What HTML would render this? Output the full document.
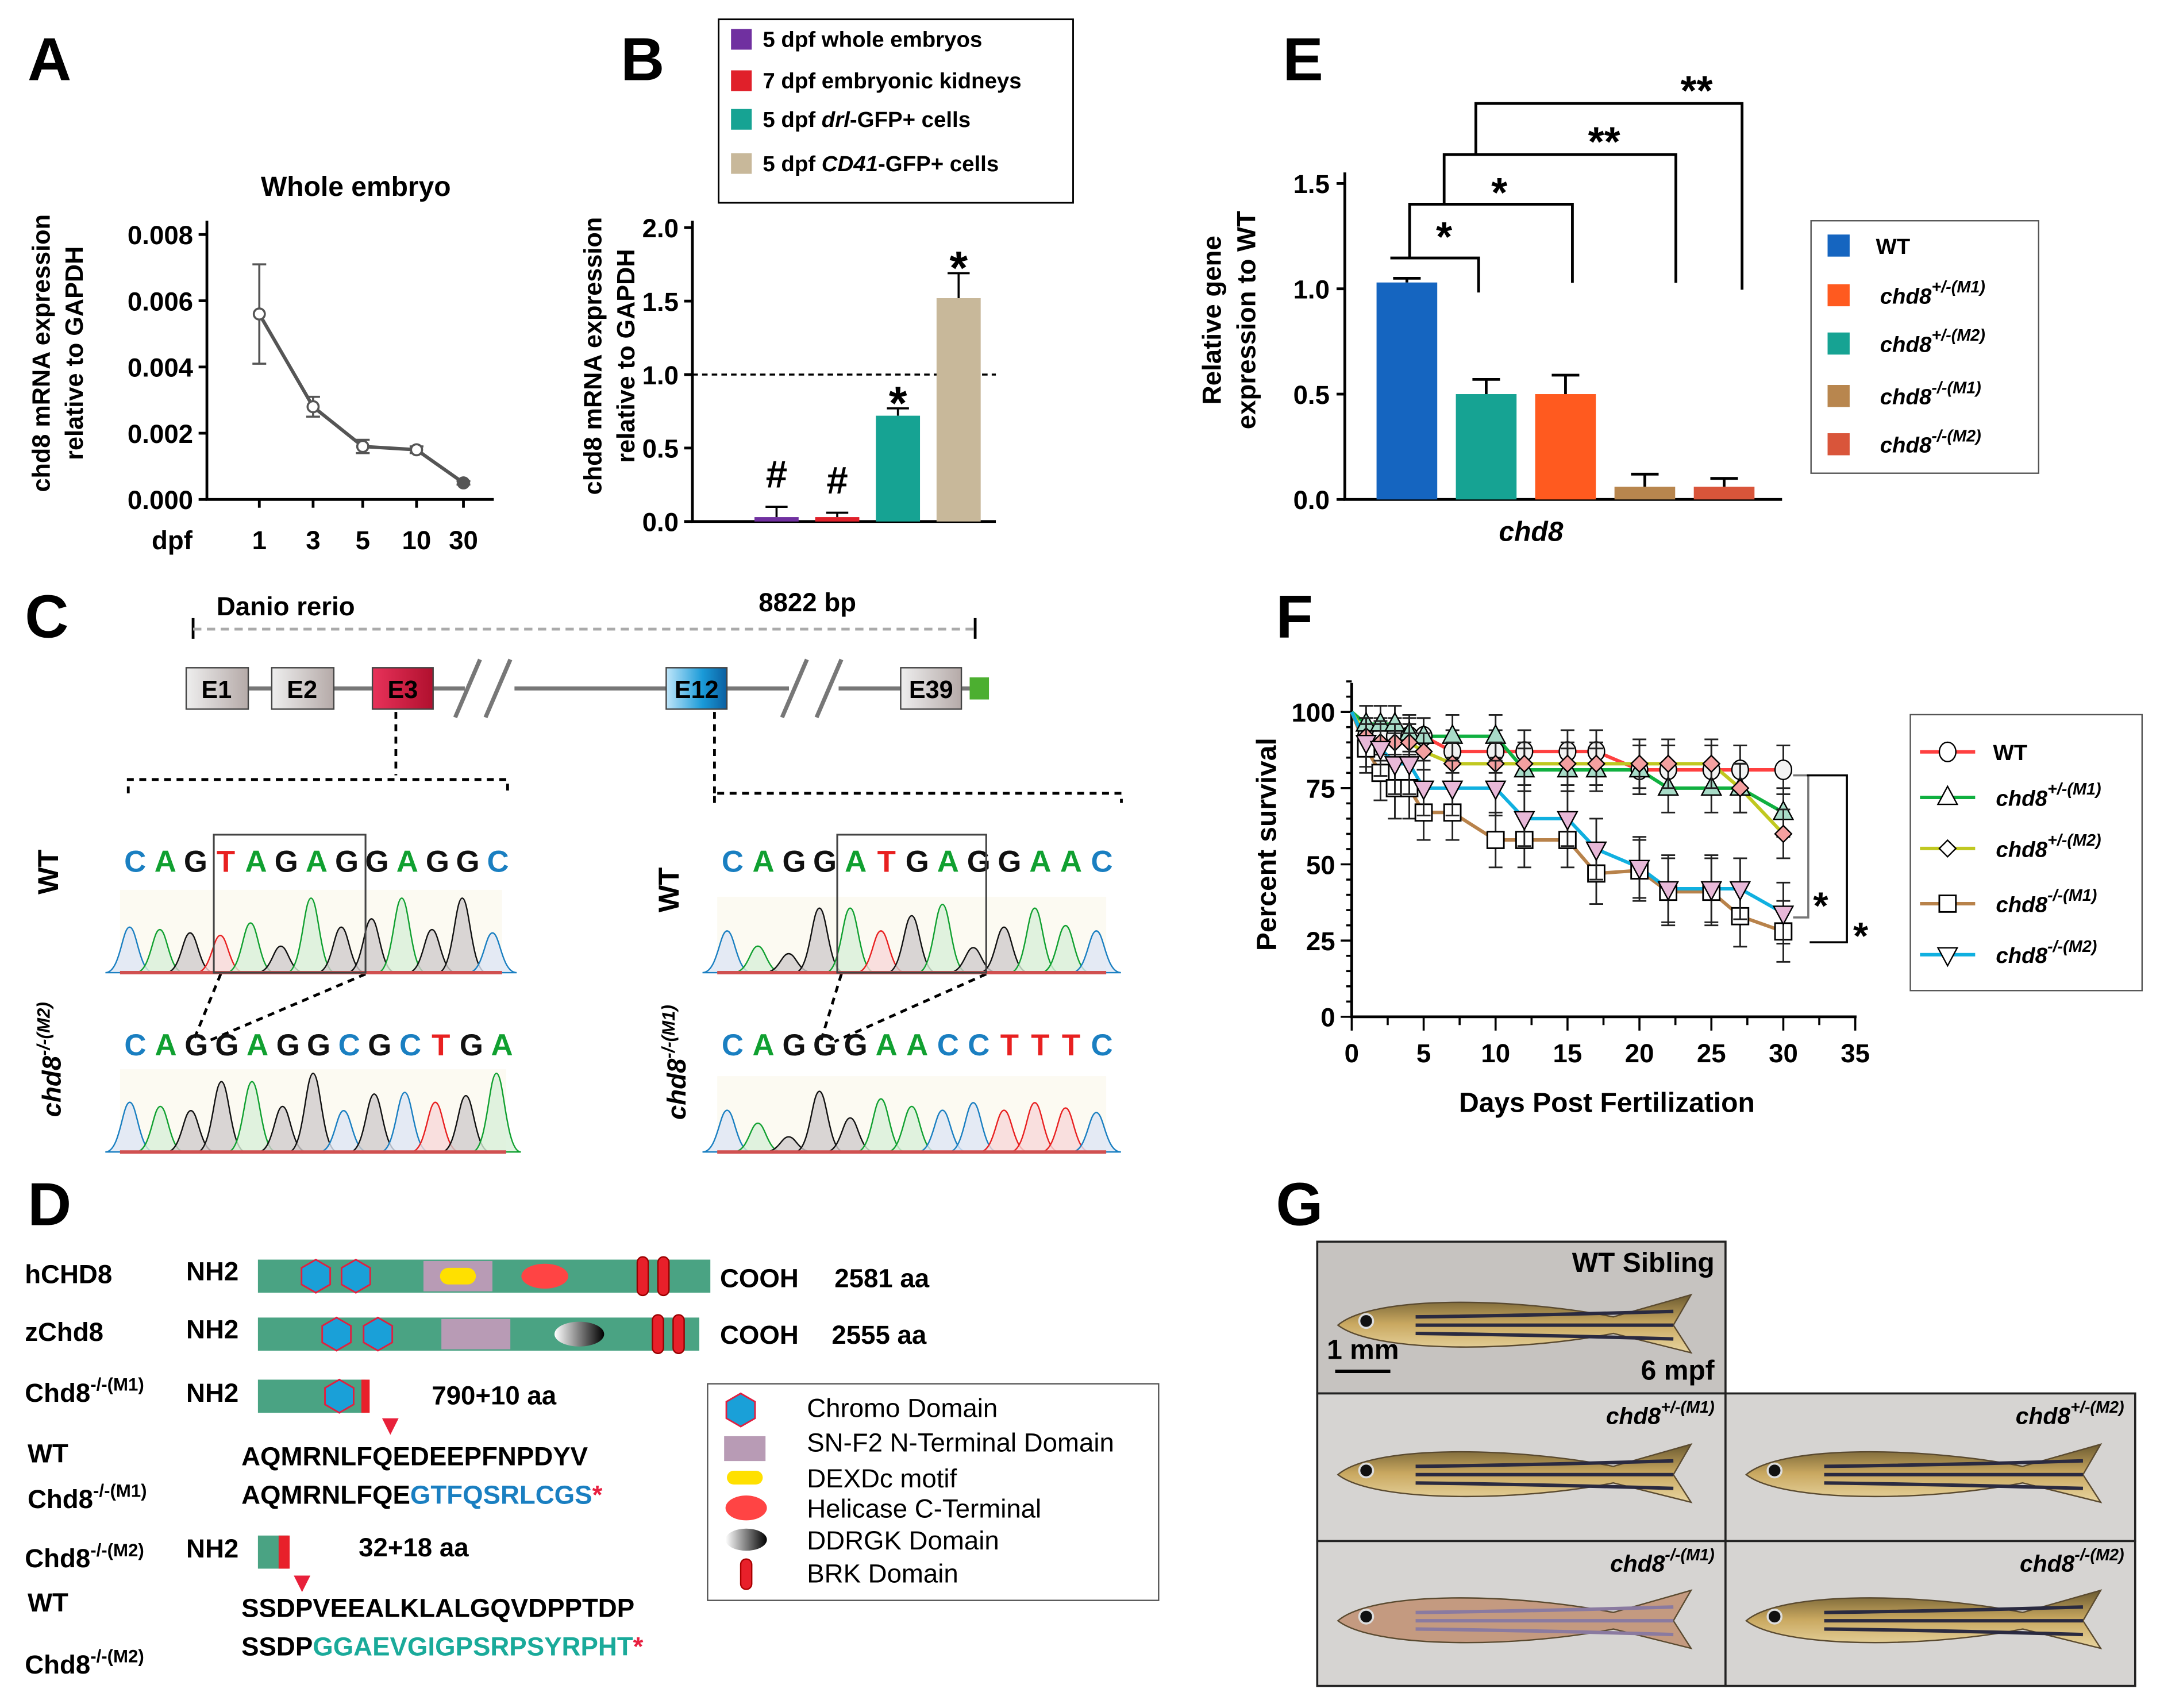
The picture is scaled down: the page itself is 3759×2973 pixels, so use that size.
<!DOCTYPE html>
<html><head><meta charset="utf-8"><style>
html,body{margin:0;padding:0;background:#fff}
svg{display:block}
text{font-family:"Liberation Sans",sans-serif}
.b{font-weight:bold}
</style></head><body>
<svg id="fig" xmlns="http://www.w3.org/2000/svg" width="3759" height="2973" viewBox="0 0 1566 1238" preserveAspectRatio="none">
<defs>
<linearGradient id="gE12" x1="0" x2="1"><stop offset="0" stop-color="#bfe6fa"/><stop offset="0.6" stop-color="#1a9ad8"/><stop offset="1" stop-color="#0b5fa0"/></linearGradient>
<linearGradient id="gE3" x1="0" x2="1"><stop offset="0" stop-color="#e8325a"/><stop offset="1" stop-color="#b0102e"/></linearGradient>
<linearGradient id="gGray" x1="0" x2="1"><stop offset="0" stop-color="#eee"/><stop offset="1" stop-color="#b5aaa8"/></linearGradient>
<linearGradient id="gDD" x1="0" x2="1"><stop offset="0" stop-color="#fff"/><stop offset="1" stop-color="#000"/></linearGradient>
<linearGradient id="gFish" x1="0" x2="0" y1="0" y2="1"><stop offset="0" stop-color="#6b5a30"/><stop offset="0.5" stop-color="#c9a860"/><stop offset="1" stop-color="#e8d5a0"/></linearGradient>
</defs>

<!-- Panel labels -->
<text x="20" y="58" class="b" font-size="44">A</text>
<text x="450" y="58" class="b" font-size="44">B</text>
<text x="930" y="58" class="b" font-size="44">E</text>
<text x="18" y="462" class="b" font-size="44">C</text>
<text x="925" y="462" class="b" font-size="44">F</text>
<text x="20" y="888" class="b" font-size="44">D</text>
<text x="925" y="888" class="b" font-size="44">G</text>

<!-- Panel A -->
<g id="panelA">
<text x="258" y="142" class="b" font-size="20" text-anchor="middle">Whole embryo</text>
<text transform="translate(36,256) rotate(-90)" class="b" font-size="18" text-anchor="middle">chd8 mRNA expression</text>
<text transform="translate(60,256) rotate(-90)" class="b" font-size="18" text-anchor="middle">relative to GAPDH</text>
<text x="110" y="398" class="b" font-size="19">dpf</text>
</g>

<!-- Panel B -->
<g id="panelB">
<rect x="521" y="14" width="257" height="133" fill="#fff" stroke="#000" stroke-width="1.2"/>
<text transform="translate(436,258) rotate(-90)" class="b" font-size="18" text-anchor="middle">chd8 mRNA expression</text>
<text transform="translate(460,258) rotate(-90)" class="b" font-size="18" text-anchor="middle">relative to GAPDH</text>
</g>

<!-- Panel E -->
<g id="panelE">
<text transform="translate(885,232) rotate(-90)" class="b" font-size="19" text-anchor="middle">Relative gene</text>
<text transform="translate(910,232) rotate(-90)" class="b" font-size="19" text-anchor="middle">expression to WT</text>
<text x="1110" y="392" class="b" font-style="italic" font-size="20" text-anchor="middle">chd8</text>
<rect x="1313" y="160" width="165" height="183" fill="#fff" stroke="#555" stroke-width="1"/>
<g fill="none" stroke="#000" stroke-width="2">
<path d="M1008 187 H1072 V212"/>
<path d="M1022 187 V148 H1140 V205"/>
<path d="M1047 148 V112 H1215 V205"/>
<path d="M1070 112 V75 H1263 V210"/>
</g>
<text x="1047" y="182" class="b" font-size="30" text-anchor="middle">*</text>
<text x="1087" y="150" class="b" font-size="30" text-anchor="middle">*</text>
<text x="1163" y="113" class="b" font-size="30" text-anchor="middle">**</text>
<text x="1230" y="76" class="b" font-size="30" text-anchor="middle">**</text>
</g>

<!-- Panel C -->
<g id="panelC">
<text x="157" y="446" class="b" font-size="19">Danio rerio</text>
<text x="550" y="443" class="b" font-size="19">8822 bp</text>
<path d="M140 448 V463 M707 448 V463" stroke="#000" stroke-width="2"/>
<path d="M140 456 H707" stroke="#aaa" stroke-width="2" stroke-dasharray="6 4"/>
<path d="M135 499 H715" stroke="#777" stroke-width="3"/>
<rect x="337" y="490" width="36" height="20" fill="#fff"/>
<rect x="572" y="490" width="36" height="20" fill="#fff"/>
<path d="M330 520 L348 478 M352 520 L370 478 M567 520 L585 478 M592 520 L610 478" stroke="#777" stroke-width="3"/>
<g><rect x="135" y="484" width="45" height="30" fill="url(#gGray)" stroke="#444"/><text x="157" y="506" text-anchor="middle" font-size="18" class="b">E1</text></g>
<g><rect x="197" y="484" width="45" height="30" fill="url(#gGray)" stroke="#444"/><text x="219" y="506" text-anchor="middle" font-size="18" class="b">E2</text></g>
<g><rect x="270" y="484" width="44" height="30" fill="url(#gE3)" stroke="#444"/><text x="292" y="506" text-anchor="middle" font-size="18" class="b">E3</text></g>
<g><rect x="483" y="484" width="44" height="30" fill="url(#gE12)" stroke="#444"/><text x="505" y="506" text-anchor="middle" font-size="18" class="b">E12</text></g>
<g><rect x="653" y="484" width="44" height="30" fill="url(#gGray)" stroke="#444"/><text x="675" y="506" text-anchor="middle" font-size="18" class="b">E39</text></g>
<rect x="703" y="491" width="14" height="16" fill="#4caf30"/>
<g stroke="#000" stroke-width="2" stroke-dasharray="5 4" fill="none">
<path d="M287 516 V562"/><path d="M93 575 V565 H368 V575"/>
<path d="M518 516 V575"/><path d="M518 582 V575 H813 V582"/>
<path d="M160 706 L140 755 M265 706 L150 755" />
<path d="M610 706 L595 755 M715 706 L605 755" />
</g>
<text transform="translate(42,632) rotate(-90)" class="b" font-size="21" text-anchor="middle">WT</text>
<text transform="translate(44,768) rotate(-90)" class="b" font-size="19" font-style="italic" text-anchor="middle">chd8<tspan font-size="13" dy="-8">-/-(M2)</tspan></text>
<text transform="translate(492,645) rotate(-90)" class="b" font-size="21" text-anchor="middle">WT</text>
<text transform="translate(497,770) rotate(-90)" class="b" font-size="19" font-style="italic" text-anchor="middle">chd8<tspan font-size="13" dy="-8">-/-(M1)</tspan></text>
<g id="chromats"></g>
<rect x="155" y="605" width="110" height="100" fill="none" stroke="#444" stroke-width="1.3"/>
<rect x="607" y="605" width="108" height="100" fill="none" stroke="#444" stroke-width="1.3"/>
</g>

<!-- Panel D -->
<g id="panelD" font-size="19">
<text x="18" y="930" class="b">hCHD8</text><text x="135" y="928" class="b">NH2</text>
<rect x="187" y="913" width="328" height="24" fill="#4aa383"/>
<rect x="307" y="914" width="50" height="22" fill="#b89bb5"/><rect x="319" y="919" width="26" height="12" rx="6" fill="#ffe000"/>
<ellipse cx="395" cy="925" rx="17" ry="9" fill="#f44"/>
<text x="522" y="933" class="b">COOH</text><text x="605" y="933" class="b">2581 aa</text>
<text x="18" y="972" class="b">zChd8</text><text x="135" y="970" class="b">NH2</text>
<rect x="187" y="955" width="320" height="24" fill="#4aa383"/>
<rect x="320" y="956" width="50" height="22" fill="#b89bb5"/>
<ellipse cx="420" cy="967" rx="18" ry="9" fill="url(#gDD)"/>
<text x="522" y="974" class="b">COOH</text><text x="603" y="974" class="b">2555 aa</text>
<text x="18" y="1016" class="b">Chd8<tspan font-size="13" dy="-8">-/-(M1)</tspan></text><text x="135" y="1016" class="b">NH2</text>
<rect x="187" y="1000" width="78" height="24" fill="#4aa383"/>
<rect x="262" y="1000" width="6" height="24" fill="#e8202a"/>
<text x="313" y="1018" class="b">790+10 aa</text>
<path d="M277 1028 L289 1028 L283 1040 Z" fill="#e8203a"/>
<text x="20" y="1060" class="b">WT</text>
<text x="175" y="1062" class="b">AQMRNLFQEDEEPFNPDYV</text>
<text x="20" y="1093" class="b">Chd8<tspan font-size="13" dy="-8">-/-(M1)</tspan></text>
<text x="175" y="1090" class="b">AQMRNLFQE<tspan fill="#1a7fc1">GTFQSRLCGS</tspan><tspan fill="#e82040">*</tspan></text>
<text x="18" y="1136" class="b">Chd8<tspan font-size="13" dy="-8">-/-(M2)</tspan></text><text x="135" y="1129" class="b">NH2</text>
<rect x="187" y="1113" width="22" height="24" fill="#4aa383"/><rect x="202" y="1113" width="8" height="24" fill="#e8202a"/>
<text x="260" y="1128" class="b">32+18 aa</text>
<path d="M213 1142 L225 1142 L219 1154 Z" fill="#e8203a"/>
<text x="20" y="1168" class="b">WT</text>
<text x="175" y="1172" class="b">SSDPVEEALKLALGQVDPPTDP</text>
<text x="18" y="1213" class="b">Chd8<tspan font-size="13" dy="-8">-/-(M2)</tspan></text>
<text x="175" y="1200" class="b">SSDP<tspan fill="#1aaa9a">GGAEVGIGPSRPSYRPHT</tspan><tspan fill="#e82040">*</tspan></text>
<rect x="513" y="1003" width="327" height="157" fill="#fff" stroke="#555"/>
<g font-size="19">
<text x="585" y="1027">Chromo Domain</text>
<text x="585" y="1052">SN-F2 N-Terminal Domain</text>
<text x="585" y="1078">DEXDc motif</text>
<text x="585" y="1100">Helicase C-Terminal</text>
<text x="585" y="1123">DDRGK Domain</text>
<text x="585" y="1147">BRK Domain</text>
</g>
<rect x="525" y="1041" width="30" height="18" fill="#b89bb5"/>
<rect x="527" y="1066" width="26" height="10" rx="5" fill="#ffe000"/>
<ellipse cx="541" cy="1093" rx="15" ry="9" fill="#f44"/>
<ellipse cx="541" cy="1116" rx="15" ry="8" fill="url(#gDD)"/>
<rect x="537" y="1130" width="8" height="22" rx="4" fill="#e8202a" stroke="#a00"/>
<g id="hexes"></g>
</g>

<!-- Panel F -->
<g id="panelF">
<text transform="translate(925,612) rotate(-90)" class="b" font-size="20" text-anchor="middle">Percent survival</text>
<text x="1165" y="806" class="b" font-size="20" text-anchor="middle">Days Post Fertilization</text>
<rect x="1385" y="518" width="168" height="200" fill="#fff" stroke="#555"/>
<path d="M1300 562 H1311 V665 H1300" fill="none" stroke="#777" stroke-width="1.5"/>
<path d="M1310 562 H1339 V683 H1312" fill="none" stroke="#000" stroke-width="1.5"/>
<text x="1320" y="666" class="b" font-size="28" text-anchor="middle">*</text>
<text x="1349" y="688" class="b" font-size="28" text-anchor="middle">*</text>
</g>

<!-- Panel G -->
<g id="panelG"></g>
</svg>

<script>
const NS='http://www.w3.org/2000/svg';
function el(tag,attrs,parent,txt){const e=document.createElementNS(NS,tag);for(const k in attrs)e.setAttribute(k,attrs[k]);if(txt!==undefined)e.textContent=txt;(parent||document.getElementById('fig')).appendChild(e);return e;}

/* ---------- Panel A data ---------- */
const aCats=['1','3','5','10','30'];
const aVals=[0.0056,0.0028,0.0016,0.0015,0.0005];
const aErrs=[0.0015,0.0003,0.0002,0.0001,0.00005];
const aTicks=[0,0.002,0.004,0.006,0.008];
const aTickLabels=['0.000','0.002','0.004','0.006','0.008'];
/* ---------- Panel B data ---------- */
const bCats=['5 dpf whole embryos','7 dpf embryonic kidneys','5 dpf drl-GFP+ cells','5 dpf CD41-GFP+ cells'];
const bVals=[0.03,0.03,0.72,1.52];
const bErrs=[0.07,0.03,0.05,0.17];
const bMarks=['#','#','*','*'];
const bTicks=[0,0.5,1.0,1.5,2.0];
const bTickLabels=['0.0','0.5','1.0','1.5','2.0'];
/* ---------- Panel E data ---------- */
const eCats=['WT','+/-(M1)','+/-(M2)','-/-(M1)','-/-(M2)'];
const eVals=[1.03,0.50,0.50,0.06,0.06];
const eErrs=[0.02,0.07,0.09,0.06,0.04];
const eTicks=[0,0.5,1.0,1.5];
const eTickLabels=['0.0','0.5','1.0','1.5'];
/* ---------- Panel F data ---------- */
const fDays=[0,1,2,3,4,5,7,10,12,15,17,20,22,25,27,30];
const fWT=[100,92,92,92,92,92,87,87,87,87,87,81,81,81,81,81];
const fM1het=[100,96,96,96,93,92,92,92,81,81,81,81,75,75,75,67];
const fM2het=[100,92,90,90,90,87,83,83,83,83,83,83,83,83,75,60];
const fM1hom=[100,88,80,75,75,67,67,58,58,58,47,48,41,41,33,28];
const fM2hom=[100,90,88,83,83,75,75,75,65,65,55,49,42,42,42,34];
const fErrWT=[0,6,6,6,6,6,7,7,7,7,7,8,8,8,8,8];
const fErrHom=[0,8,9,10,10,9,9,9,9,9,10,10,11,11,10,10];
const fTicks=[0,25,50,75,100];
const fXTicks=[0,5,10,15,20,25,30,35];

/* ---------- Panel A ---------- */
(function(){
 const g=document.getElementById('panelA');
 const y=v=>362-v/0.008*192;
 const x=i=>188+[0,39,75,114,148][i];
 el('path',{d:'M150 160 V362 H358','fill':'none',stroke:'#000','stroke-width':2},g);
 aTicks.forEach((t,i)=>{el('path',{d:`M144 ${y(t)} H150`,stroke:'#000','stroke-width':2},g);
  const tx=el('text',{x:140,y:y(t)+7,'text-anchor':'end','font-size':19,class:'b'},g,aTickLabels[i]);
  });
 aCats.forEach((c,i)=>{el('path',{d:`M${x(i)} 362 V368`,stroke:'#000','stroke-width':2},g);
  const tx=el('text',{x:x(i),y:398,'text-anchor':'middle','font-size':19,class:'b'},g,c);
  });
 el('path',{d:aVals.map((v,i)=>(i?'L':'M')+x(i)+' '+y(v)).join(' '),fill:'none',stroke:'#555','stroke-width':2.5},g);
 aVals.forEach((v,i)=>{
  el('path',{d:`M${x(i)} ${y(v+aErrs[i])} V${y(v-aErrs[i])} M${x(i)-5} ${y(v+aErrs[i])} H${x(i)+5} M${x(i)-5} ${y(v-aErrs[i])} H${x(i)+5}`,stroke:'#555','stroke-width':1.5},g);
  const p=el('circle',{cx:x(i),cy:y(v),r:4,fill:i==4?'#555':'#fff',stroke:'#555','stroke-width':1.5},g);
  
 });
})();

/* ---------- Panel B ---------- */
(function(){
 const g=document.getElementById('panelB');
 const y=v=>378-v/2*213;
 const cols=['#7030a0','#e0202a','#16a393','#c8b89a'];
 el('path',{d:'M502 160 V378 H722','fill':'none',stroke:'#000','stroke-width':2},g);
 bTicks.forEach((t,i)=>{el('path',{d:`M496 ${y(t)} H502`,stroke:'#000','stroke-width':2},g);
  const tx=el('text',{x:492,y:y(t)+7,'text-anchor':'end','font-size':19,class:'b'},g,bTickLabels[i]);
  });
 el('path',{d:`M502 ${y(1)} H722`,stroke:'#000','stroke-width':1.5,'stroke-dasharray':'4 3'},g);
 bVals.forEach((v,i)=>{const cx=563+i*44;
  el('path',{d:`M${cx} ${y(v)} V${y(v+bErrs[i])} M${cx-8} ${y(v+bErrs[i])} H${cx+8}`,stroke:'#000','stroke-width':1.5},g);
  const r=el('rect',{x:cx-16,y:y(v),width:32,height:378-y(v),fill:cols[i]},g);
  
  el('text',{x:cx,y:y(v+bErrs[i])-(bMarks[i]=='#'?14:-8),'text-anchor':'middle','font-size':bMarks[i]=='#'?28:34,class:'b'},g,bMarks[i]);
  const ly=[34,64,92,124][i];
  el('rect',{x:530,y:ly-13,width:15,height:15,fill:cols[i]},g);
  const lt=el('text',{x:553,y:ly,'font-size':16,class:'b'},g);
  
  const parts=[['5 dpf ',''],['7 dpf embryonic kidneys',''],['5 dpf ','drl','-GFP+ cells'],['5 dpf ','CD41','-GFP+ cells']][i];
  lt.appendChild(document.createTextNode(parts[0]));
  if(i==0) lt.appendChild(document.createTextNode('whole embryos'));
  if(i>=2){const ts=el('tspan',{'font-style':'italic'},lt,parts[1]);lt.appendChild(document.createTextNode(parts[2]));}
 });
})();

/* ---------- Panel E ---------- */
(function(){
 const g=document.getElementById('panelE');
 const y=v=>362-v/1.5*229;
 const cols=['#1565c0','#16a393','#ff5a1f','#b8864e','#d9553a'];
 const legCols=['#1565c0','#ff5a1f','#16a393','#b8864e','#d9553a'];
 el('path',{d:'M975 125 V362 H1292','fill':'none',stroke:'#000','stroke-width':2},g);
 eTicks.forEach((t,i)=>{el('path',{d:`M969 ${y(t)} H975`,stroke:'#000','stroke-width':2},g);
  const tx=el('text',{x:964,y:y(t)+7,'text-anchor':'end','font-size':19,class:'b'},g,eTickLabels[i]);
  });
 eVals.forEach((v,i)=>{const x0=998+i*57.5;
  el('path',{d:`M${x0+22} ${y(v)} V${y(v+eErrs[i])} M${x0+12} ${y(v+eErrs[i])} H${x0+32}`,stroke:'#000','stroke-width':2},g);
  const r=el('rect',{x:x0,y:y(v),width:44,height:362-y(v),fill:cols[i]},g);
  
  const ly=[184,220,255,293,328][i];
  el('rect',{x:1325,y:ly-14,width:16,height:16,fill:legCols[i]},g);
  const lt=el('text',{x:i==0?1360:1363,y:ly,'font-size':16,class:'b','font-style':i?'italic':'normal'},g,i==0?'WT':'chd8');
  
  if(i) el('tspan',{'font-size':12,dy:-8},lt,eCats[i]);
 });
})();

/* ---------- Panel F ---------- */
(function(){
 const g=document.getElementById('panelF');
 const x=d=>980+d*10.43, y=v=>737-v*2.21;
 el('path',{d:'M980 495 V737 H1346','fill':'none',stroke:'#000','stroke-width':2},g);
 for(let v=0;v<=110;v+=5){el('path',{d:`M${v%25?976:972} ${y(v)} H980`,stroke:'#000','stroke-width':1.5},g);}
 fTicks.forEach(t=>{const tx=el('text',{x:968,y:y(t)+7,'text-anchor':'end','font-size':19,class:'b'},g,String(t));
  });
 for(let d=0;d<=35;d+=2.5){el('path',{d:`M${x(d)} 737 V${d%5?743:747}`,stroke:'#000','stroke-width':1.5},g);}
 fXTicks.forEach(t=>{const tx=el('text',{x:x(t),y:770,'text-anchor':'middle','font-size':19,class:'b'},g,String(t));
  });
 const series=[[fWT,'#ff4040','circle','#f2f2f2',fErrWT],[fM1het,'#10b040','tri','#a8dcc8',fErrWT],[fM2het,'#c0c820','diamond','#f4a0a0',fErrWT],[fM1hom,'#b8824a','square','#fff',fErrHom],[fM2hom,'#10b0e0','tridown','#e8b8d8',fErrHom]];
 const names=['WT','+/-(M1)','+/-(M2)','-/-(M1)','-/-(M2)'];
 series.forEach(([vals,col],si)=>{
  const l=el('path',{d:vals.map((v,i)=>(i?'L':'M')+x(fDays[i])+' '+y(v)).join(' '),fill:'none',stroke:col,'stroke-width':2.5},g);
  
 });
 function marker(type,cx,cy,fill,parent){
  if(type=='circle')return el('ellipse',{cx,cy,rx:6,ry:7,fill,stroke:'#000','stroke-width':1},parent);
  if(type=='square')return el('rect',{x:cx-6,y:cy-6,width:12,height:12,fill,stroke:'#000','stroke-width':1.2},parent);
  if(type=='diamond')return el('path',{d:`M${cx} ${cy-6} L${cx+6} ${cy} L${cx} ${cy+6} L${cx-6} ${cy} Z`,fill,stroke:'#000','stroke-width':1},parent);
  if(type=='tri')return el('path',{d:`M${cx} ${cy-8} L${cx+7} ${cy+5} L${cx-7} ${cy+5} Z`,fill,stroke:'#000','stroke-width':1},parent);
  return el('path',{d:`M${cx-7} ${cy-5} L${cx+7} ${cy-5} L${cx} ${cy+8} Z`,fill,stroke:'#000','stroke-width':1},parent);
 }
 series.forEach(([vals,col,type,fill,errs],si)=>{
  vals.forEach((v,i)=>{if(i==0)return;const cx=x(fDays[i]),cy=y(v),e=errs[i]*2.21;
   el('path',{d:`M${cx} ${cy-e} V${cy+e} M${cx-5} ${cy-e} H${cx+5} M${cx-5} ${cy+e} H${cx+5}`,stroke:'#222','stroke-width':1.2},g);
   const m=marker(type,cx,cy,fill,g);
   
  });
  const ly=[545,578,615,655,692][si];
  el('path',{d:`M1392 ${ly} H1432`,stroke:col,'stroke-width':2.5},g);
  marker(type,1412,ly,'#fff',g);
  const lt=el('text',{x:si?1447:1445,y:ly+6,'font-size':16,class:'b','font-style':si?'italic':'normal'},g,si?'chd8':'WT');
  
  if(si) el('tspan',{'font-size':12,dy:-8},lt,names[si]);
 });
})();

/* ---------- Panel C chromatograms ---------- */
(function(){
 const g=document.getElementById('chromats');
 const colMap={A:'#10a030',C:'#1a7fc1',G:'#111',T:'#e82020'};
 const fillMap={A:'#d8f0d8',C:'#dde6f4',G:'#d0cccc',T:'#f8d8d8'};
 const seqs=[
  {seq:'CAGTAGAGGAGGC',x0:87,x1:372,ty:632,top:645,bot:705,h:[.55,.52,.48,.45,.6,.32,.9,.55,.65,.9,.52,.9,.48]},
  {seq:'CAGGAGGCGCTGA',x0:87,x1:375,ty:765,top:775,bot:835,h:[.6,.55,.5,.85,.85,.55,.95,.5,.7,.72,.6,.68,.95]},
  {seq:'CAGGATGAGGAAC',x0:520,x1:810,ty:632,top:650,bot:705,h:[.55,.35,.25,.85,.85,.55,.75,.9,.33,.6,.85,.62,.55]},
  {seq:'CAGGGAACCTTTC',x0:520,x1:810,ty:765,top:780,bot:835,h:[.55,.38,.2,.8,.45,.7,.6,.55,.65,.55,.65,.58,.52]}
 ];
 seqs.forEach((s,si)=>{
  const n=s.seq.length, w=(s.x1-s.x0)/n, H=s.bot-s.top;
  el('rect',{x:s.x0,y:s.top,width:s.x1-s.x0-8,height:H,fill:'#fcfaf2'},g);
  for(let i=0;i<n;i++){
   const b=s.seq[i];
   const t=el('text',{x:s.x0+w*i+w/2,y:s.ty,'text-anchor':'middle','font-size':22,class:'b',fill:colMap[b]},g,b);
   
   const px=s.x0+w*i+w/2-4, ph=s.bot-H*s.h[i];
   el('path',{d:`M${px-w*0.8} ${s.bot} C${px-w*0.3} ${s.bot} ${px-w*0.25} ${ph} ${px} ${ph} C${px+w*0.25} ${ph} ${px+w*0.3} ${s.bot} ${px+w*0.8} ${s.bot} Z`,fill:fillMap[b],'fill-opacity':0.8,stroke:colMap[b],'stroke-width':1},g);
  }
  el('path',{d:`M${s.x0} ${s.bot} H${s.x1-8}`,stroke:'#d05050','stroke-width':2.5},g);
 });
})();

/* ---------- Panel D hexagons ---------- */
(function(){
 const g=document.getElementById('hexes');
 const hx=[[229,925],[258,925],[244,967],[274,967],[246,1012],[537,1022]];
 hx.forEach(([cx,cy])=>{const r=12;let d='';for(let k=0;k<6;k++){const a=Math.PI/3*k+Math.PI/6;d+=(k?'L':'M')+(cx+r*Math.cos(a))+' '+(cy+r*Math.sin(a));}
  const h=el('path',{d:d+'Z',fill:'#1aa0d8',stroke:'#e02040','stroke-width':1.2},g);
  });
 [[466,913],[481,913],[477,955],[492,955]].forEach(([x,y0])=>{el('rect',{x:x-4,y:y0-2,width:8,height:28,rx:4,fill:'#e8202a',stroke:'#900'},g);});
})();

/* ---------- Panel G photos ---------- */
(function(){
 const g=document.getElementById('panelG');
 const frames=[[955,900,296,110,'WT Sibling',''],[955,1010,296,107,'chd8','+/-(M1)'],[1251,1010,297,107,'chd8','+/-(M2)'],[955,1117,296,105,'chd8','-/-(M1)'],[1251,1117,297,105,'chd8','-/-(M2)']];
 frames.forEach(([x,y,w,h,lab,sup],i)=>{
  const r=el('rect',{x,y,width:w,height:h,fill:i==0?'#c6c3c0':'#d6d4d2',stroke:'#222','stroke-width':1.5},g);
  
  const cy=y+h*0.55, fx=x+15, L=w-40;
  const tone=i==3?'#c49a80':'url(#gFish)';
  el('path',{d:`M${fx} ${cy} C${fx+L*0.1} ${cy-22} ${fx+L*0.5} ${cy-20} ${fx+L*0.78} ${cy-6} L${fx+L} ${cy-22} L${fx+L*0.95} ${cy} L${fx+L} ${cy+20} L${fx+L*0.78} ${cy+6} C${fx+L*0.5} ${cy+20} ${fx+L*0.1} ${cy+20} ${fx} ${cy} Z`,fill:tone,stroke:'#5a4a30','stroke-width':1},g);
  for(let k=-1;k<=1;k++) el('path',{d:`M${fx+L*0.22} ${cy+k*6} Q${fx+L*0.55} ${cy+k*7} ${fx+L*0.95} ${cy+k*10}`,stroke:i==3?'#8a7aa0':'#2a2a40','stroke-width':2.5,fill:'none'},g);
  el('circle',{cx:fx+L*0.08,cy:cy-3,r:5,fill:'#111',stroke:'#ddd','stroke-width':1.5},g);
  const t=el('text',{x:x+w-8,y:y+22,'text-anchor':'end','font-size':lab=='chd8'?17:20,class:'b','font-style':lab=='chd8'?'italic':'normal'},g,lab);
  
  if(sup) el('tspan',{'font-size':12,dy:-8},t,sup);
 });
 el('text',{x:962,y:985,'font-size':20,class:'b'},g,'1 mm');
 el('path',{d:'M968 994 H1008',stroke:'#000','stroke-width':2.5},g);
 el('text',{x:1243,y:1000,'font-size':20,class:'b','text-anchor':'end'},g,'6 mpf');
})();
</script>
</body></html>
